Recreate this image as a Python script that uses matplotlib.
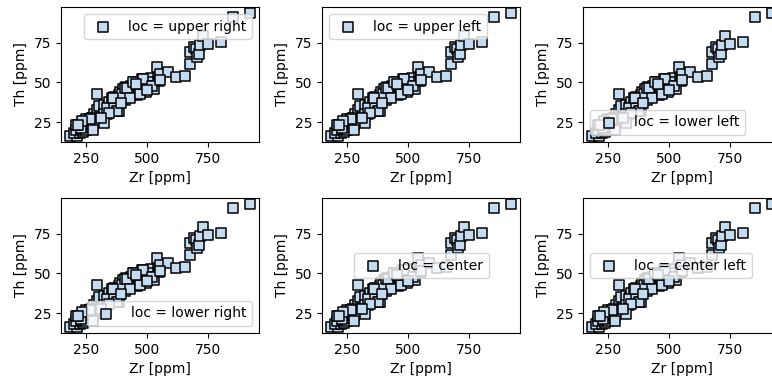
import matplotlib
matplotlib.use("Agg")
import matplotlib.pyplot as plt

zr = [185, 215, 200, 225, 240, 210, 230, 250, 220, 245, 260, 235, 255, 270, 280,
      265, 250, 275, 290, 300, 285, 295, 310, 320, 305, 330, 325, 340, 295, 345,
      335, 350, 360, 355, 365, 375, 380, 370, 385, 390, 395, 400, 405, 410, 415,
      420, 425, 430, 435, 440, 445, 450, 455, 460, 465, 470, 475, 480, 485, 490,
      495, 500, 505, 510, 515, 520, 525, 530, 540, 545, 550, 555, 585, 620, 655,
      231, 208, 276, 296, 323, 337, 364, 384, 398, 411, 278, 322, 268, 234, 216,
      376, 362, 417, 444, 468, 482, 522, 552, 430, 470, 500, 455, 395, 345, 310,
      674, 677, 690, 699, 705, 711, 715, 728, 749, 803, 853, 921]
th = [16.5, 16.5, 18, 18, 19, 20, 21, 20, 23, 22, 22, 24, 25, 24, 23,
      27, 27, 28, 26, 25, 30, 33, 30, 28, 35, 32, 36, 35, 42.5, 38,
      30, 33, 36, 40, 41, 38, 32, 35, 42, 44, 40, 46, 42, 39, 47,
      44, 41, 46, 48, 43, 50, 45, 47, 42, 48, 45, 50, 52, 46, 49,
      44, 48, 51, 47, 53, 50, 48, 46, 59.5, 53, 51, 55, 56.5, 53.5, 54,
      21.4, 23.5, 27.7, 25.6, 29.9, 34.1, 34.1, 32, 42.5, 46.8, 20.3, 24.6, 27.3, 25.6, 23.5,
      32, 40.5, 46.8, 50, 44.7, 52, 47.9, 51.5, 40, 43, 45, 49, 37, 31, 28,
      61.7, 69, 72, 71, 66, 67.8, 73.5, 79, 74, 75.5, 90.8, 93.4]

locs = ["upper right", "upper left", "lower left",
        "lower right", "center", "center left"]

W, H = 772, 379
fig = plt.figure(figsize=(W / 100, H / 100), dpi=100)
lefts = [61, 322, 583]
tops = [7, 198]
aw, ah = 198, 135

for i, loc in enumerate(locs):
    r, c = divmod(i, 3)
    ax = fig.add_axes([lefts[c] / W, 1 - (tops[r] + ah) / H, aw / W, ah / H])
    ax.scatter(zr, th, marker="s", s=42, c="#c4dbf0", edgecolors="k",
               linewidths=1.1, label=f"loc = {loc}")
    ax.legend(loc=loc)
    ax.set_xlabel("Zr [ppm]")
    ax.set_ylabel("Th [ppm]")
    ax.set_xticks([250, 500, 750])
    ax.set_yticks([25, 50, 75])

fig.savefig("out.png", dpi=100)
